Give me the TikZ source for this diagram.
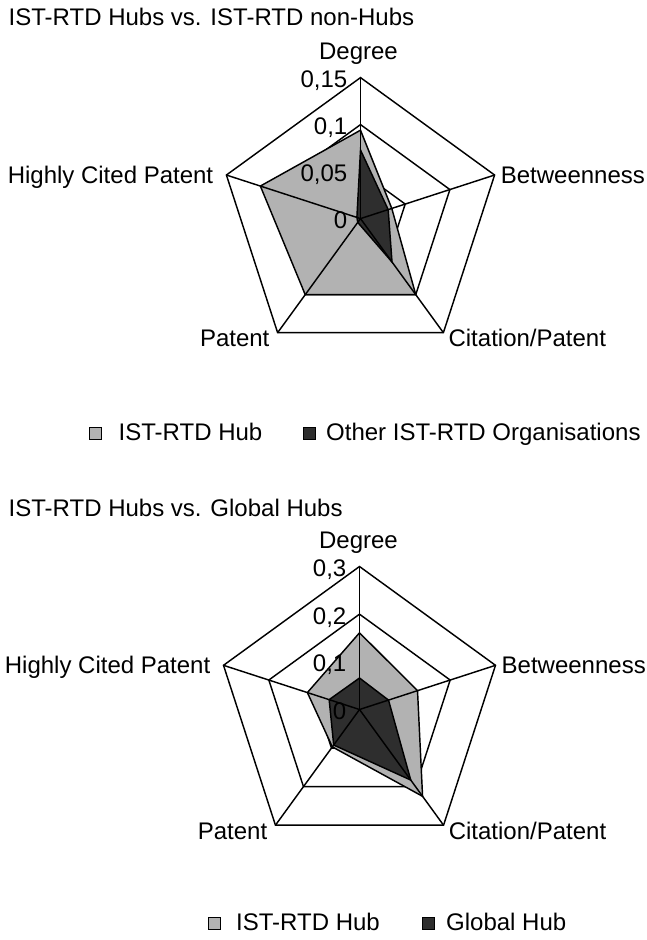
\documentclass[tikz,border=0pt]{standalone}
\usepackage{fontspec}
\setmainfont{Liberation Sans}
\usetikzlibrary{calc}
\definecolor{hubgray}{HTML}{B2B2B2}
\definecolor{othergray}{HTML}{2E2E2E}
\begin{document}
\begin{tikzpicture}[x=1pt,y=1pt,
  lbl/.style={font=\fontsize{24}{29}\selectfont, inner sep=0pt},
  gridline/.style={line width=1.45pt, draw=black, line join=miter},
  hubarea/.style={fill=hubgray, draw=black, line width=1.45pt, line join=miter},
  otherarea/.style={fill=othergray, draw=black, line width=1.45pt, line join=miter},
  keybox/.style={draw=black, line width=1pt, minimum size=12pt, inner sep=0pt}]
\useasboundingbox (0,0) rectangle (647,-940);
\fill[white] (0,0) rectangle (647,-940);

% ---------- first radar: hubs vs. non-hubs (scale 0 .. 0.15) ----------
\node[lbl, anchor=base west] (title1) at (8.5,-25) {IST-RTD Hubs vs. IST-RTD non-Hubs};
\begin{scope}[shift={(360.5,-218.6)}]
  \foreach \rr in {47,94,141}
    \draw[gridline] (90:\rr pt) -- (18:\rr pt) -- (-54:\rr pt) -- (-126:\rr pt) -- (162:\rr pt) -- cycle;
  \coordinate (c1) at (0,0);
  % IST-RTD hub values
  \coordinate (h1a) at (90:88.4pt);
  \coordinate (h1b) at (18:32.9pt);
  \coordinate (h1c) at (-54:94pt);
  \coordinate (h1d) at (-126:94pt);
  \coordinate (h1e) at (162:105.3pt);
  \draw[hubarea] (h1a) -- (h1b) -- (h1c) -- (h1d) -- (h1e) -- cycle;
  % other organisations
  \coordinate (o1a) at (90:68.6pt);
  \coordinate (o1b) at (18:29.1pt);
  \coordinate (o1c) at (-54:53.6pt);
  \coordinate (o1d) at (-126:4.7pt);
  \coordinate (o1e) at (162:3.8pt);
  \draw[otherarea] (o1a) -- (o1b) -- (o1c) -- (o1d) -- (o1e) -- cycle;
  % spokes
  \coordinate (v1a) at (90:141pt);
  \coordinate (v1b) at (18:141pt);
  \coordinate (v1c) at (-54:141pt);
  \coordinate (v1d) at (-126:141pt);
  \coordinate (v1e) at (162:141pt);
  \foreach \v in {v1a,v1b,v1c,v1d,v1e}
    \draw[gridline] (c1) -- (\v);
  % axis names
  \node[lbl, anchor=base] (deg1) at ($(v1a)+(-2,18)$) {Degree};
  \node[lbl, anchor=base west] (bet1) at ($(v1b)+(6,-8)$) {Betweenness};
  \node[lbl, anchor=base west] (cit1) at ($(v1c)+(5,-14)$) {Citation/Patent};
  \node[lbl, anchor=base east] (pat1) at ($(v1d)+(-8,-14)$) {Patent};
  \node[lbl, anchor=base east] (hcp1) at ($(v1e)+(-13,-8)$) {Highly Cited Patent};
  % scale
  \node[lbl, anchor=base east] (t1a) at (-13,-10) {0};
  \node[lbl, anchor=base east] (t1b) at (-13,37) {0,05};
  \node[lbl, anchor=base east] (t1c) at (-13,84) {0,1};
  \node[lbl, anchor=base east] (t1d) at (-13,131) {0,15};
\end{scope}
% key
\node[keybox, fill=hubgray] (k1a) at (95,-433) {};
\node[lbl, anchor=base west] (k1at) at (118.5,-440) {IST-RTD Hub};
\node[keybox, fill=othergray] (k1b) at (309,-433) {};
\node[lbl, anchor=base west] (k1bt) at (326,-440) {Other IST-RTD Organisations};

% ---------- second radar: hubs vs. global hubs (scale 0 .. 0.3) ----------
\node[lbl, anchor=base west] (title2) at (8.5,-516.5) {IST-RTD Hubs vs. Global Hubs};
\begin{scope}[shift={(359.5,-709.5)}]
  \foreach \rr in {47.67,95.33,143}
    \draw[gridline] (90:\rr pt) -- (18:\rr pt) -- (-54:\rr pt) -- (-126:\rr pt) -- (162:\rr pt) -- cycle;
  \coordinate (c2) at (0,0);
  % IST-RTD hub values
  \coordinate (h2a) at (90:76.7pt);
  \coordinate (h2b) at (18:61pt);
  \coordinate (h2c) at (-54:107.3pt);
  \coordinate (h2d) at (-126:46.2pt);
  \coordinate (h2e) at (162:54.8pt);
  \draw[hubarea] (h2a) -- (h2b) -- (h2c) -- (h2d) -- (h2e) -- cycle;
  % global hub values
  \coordinate (g2a) at (90:31.5pt);
  \coordinate (g2b) at (18:30.5pt);
  \coordinate (g2c) at (-54:87.2pt);
  \coordinate (g2d) at (-126:43.9pt);
  \coordinate (g2e) at (162:31.9pt);
  \draw[otherarea] (g2a) -- (g2b) -- (g2c) -- (g2d) -- (g2e) -- cycle;
  % spokes
  \coordinate (v2a) at (90:143pt);
  \coordinate (v2b) at (18:143pt);
  \coordinate (v2c) at (-54:143pt);
  \coordinate (v2d) at (-126:143pt);
  \coordinate (v2e) at (162:143pt);
  \foreach \v in {v2a,v2b,v2c,v2d,v2e}
    \draw[gridline] (c2) -- (\v);
  % axis names
  \node[lbl, anchor=base] (deg2) at ($(v2a)+(-1,18)$) {Degree};
  \node[lbl, anchor=base west] (bet2) at ($(v2b)+(6,-8)$) {Betweenness};
  \node[lbl, anchor=base west] (cit2) at ($(v2c)+(5,-14)$) {Citation/Patent};
  \node[lbl, anchor=base east] (pat2) at ($(v2d)+(-8,-14)$) {Patent};
  \node[lbl, anchor=base east] (hcp2) at ($(v2e)+(-13,-8)$) {Highly Cited Patent};
  % scale
  \node[lbl, anchor=base east] (t2a) at (-13,-10) {0};
  \node[lbl, anchor=base east] (t2b) at (-13,37.67) {0,1};
  \node[lbl, anchor=base east] (t2c) at (-13,85.33) {0,2};
  \node[lbl, anchor=base east] (t2d) at (-13,133) {0,3};
\end{scope}
% key
\node[keybox, fill=hubgray] (k2a) at (214,-923) {};
\node[lbl, anchor=base west] (k2at) at (236,-930) {IST-RTD Hub};
\node[keybox, fill=othergray] (k2b) at (428,-923) {};
\node[lbl, anchor=base west] (k2bt) at (446,-930) {Global Hub};
\end{tikzpicture}
\end{document}
